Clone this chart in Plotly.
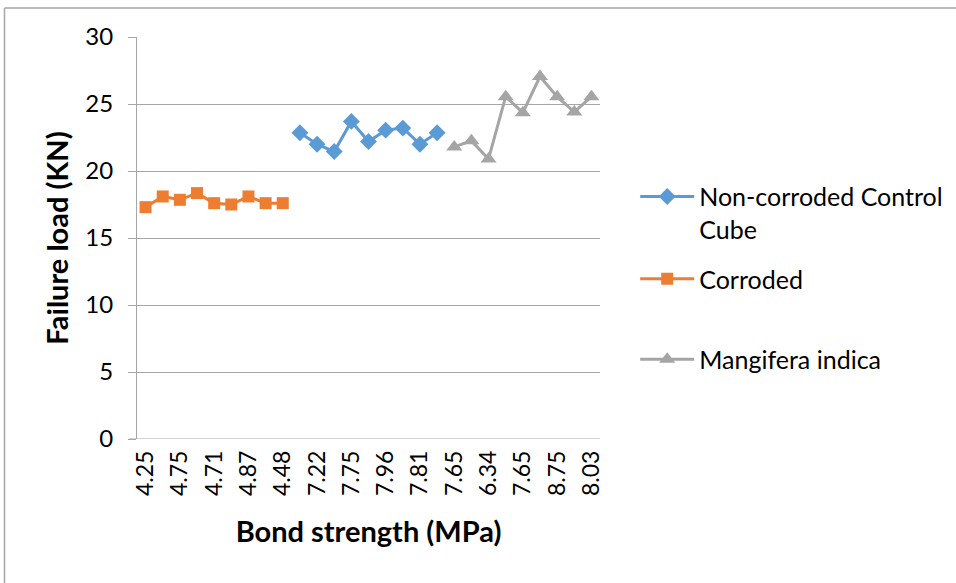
import plotly.graph_objects as go

# ---- data ----
x_tick_labels = ["4.25", "4.75", "4.71", "4.87", "4.48", "7.22", "7.75",
                 "7.96", "7.81", "7.65", "6.34", "7.65", "8.75", "8.03"]
n_categories = 27

corroded_x = list(range(0, 9))
corroded_y = [17.3, 18.1, 17.85, 18.35, 17.6, 17.5, 18.1, 17.6, 17.6]

control_x = list(range(9, 18))
control_y = [22.85, 22.0, 21.45, 23.7, 22.2, 23.05, 23.2, 22.0, 22.85]

mangifera_x = list(range(18, 27))
mangifera_y = [21.8, 22.25, 20.9, 25.55, 24.35, 27.05, 25.55, 24.4, 25.55]

FONT = "Lato"
BLUE = "#5B9BD5"
ORANGE = "#ED7D31"
GRAY = "#A5A5A5"

fig = go.Figure()
fig.add_trace(go.Scatter(
    x=control_x, y=control_y, mode="lines+markers",
    name="Non-corroded Control<br>Cube", showlegend=True,
    line=dict(color=BLUE, width=3),
    marker=dict(symbol="diamond", size=13, color=BLUE),
    legend="legend"))
fig.add_trace(go.Scatter(
    x=corroded_x, y=corroded_y, mode="lines+markers",
    name="Corroded", showlegend=True,
    line=dict(color=ORANGE, width=3),
    marker=dict(symbol="square", size=12, color=ORANGE),
    legend="legend2"))
fig.add_trace(go.Scatter(
    x=mangifera_x, y=mangifera_y, mode="lines+markers",
    name="Mangifera indica", showlegend=True,
    line=dict(color=GRAY, width=3),
    marker=dict(symbol="triangle-up", size=14, color=GRAY),
    legend="legend3"))

leg_common = dict(font=dict(family=FONT, size=25, color="#000000"),
                  bgcolor="rgba(0,0,0,0)", xanchor="left", yanchor="top",
                  itemwidth=54, valign="top")

LEG_X = 1.076

fig.update_layout(
    width=956, height=583,
    showlegend=True,
    margin=dict(l=137, r=356, t=37, b=144, autoexpand=False),
    paper_bgcolor="white", plot_bgcolor="white",
    font=dict(family=FONT, color="#000000"),
    legend=dict(x=LEG_X, y=0.66, **leg_common),
    legend2=dict(x=LEG_X, y=0.455, **leg_common),
    legend3=dict(x=LEG_X, y=0.255, **leg_common),
    xaxis=dict(
        range=[-0.5, n_categories - 0.5],
        tickmode="array",
        tickvals=list(range(0, n_categories, 2)),
        ticktext=x_tick_labels,
        tickangle=-90,
        tickfont=dict(family=FONT, size=23),
        showgrid=False, zeroline=False,
        showline=False, ticks="",
        ticklabelstandoff=6,
        title=dict(text="<b>Bond strength (MPa)</b>",
                   font=dict(family=FONT, size=29), standoff=26),
    ),
    yaxis=dict(
        range=[0, 30], tickmode="linear", tick0=0, dtick=5,
        tickfont=dict(family=FONT, size=24),
        showgrid=True, gridcolor="#A6A6A6", gridwidth=1,
        zeroline=False,
        showline=True, linecolor="#A6A6A6", linewidth=1,
        ticks="outside", ticklen=8, tickcolor="#A6A6A6",
        ticklabelstandoff=10,
        title=dict(text="<b>Failure load (KN)</b>",
                   font=dict(family=FONT, size=29), standoff=8),
    ),
    shapes=[
        # outer chart border (left and top edges)
        dict(type="line", xref="paper", yref="paper",
             x0=(4.5 - 137) / 463, x1=(4.5 - 137) / 463,
             y0=1 + (37 - 8) / 402, y1=-(583 - 439) / 402,
             line=dict(color="#A6A6A6", width=1.5)),
        dict(type="line", xref="paper", yref="paper",
             x0=(4.5 - 137) / 463, x1=(956 - 137) / 463,
             y0=1 + (37 - 8) / 402, y1=1 + (37 - 8) / 402,
             line=dict(color="#A6A6A6", width=1.5)),
        # x axis baseline (0 gridline)
        dict(type="line", xref="paper", yref="y",
             x0=-(137 - 129) / 463, x1=1, y0=0, y1=0,
             line=dict(color="#A6A6A6", width=1)),
    ],
)

fig.write_html("out.html")
